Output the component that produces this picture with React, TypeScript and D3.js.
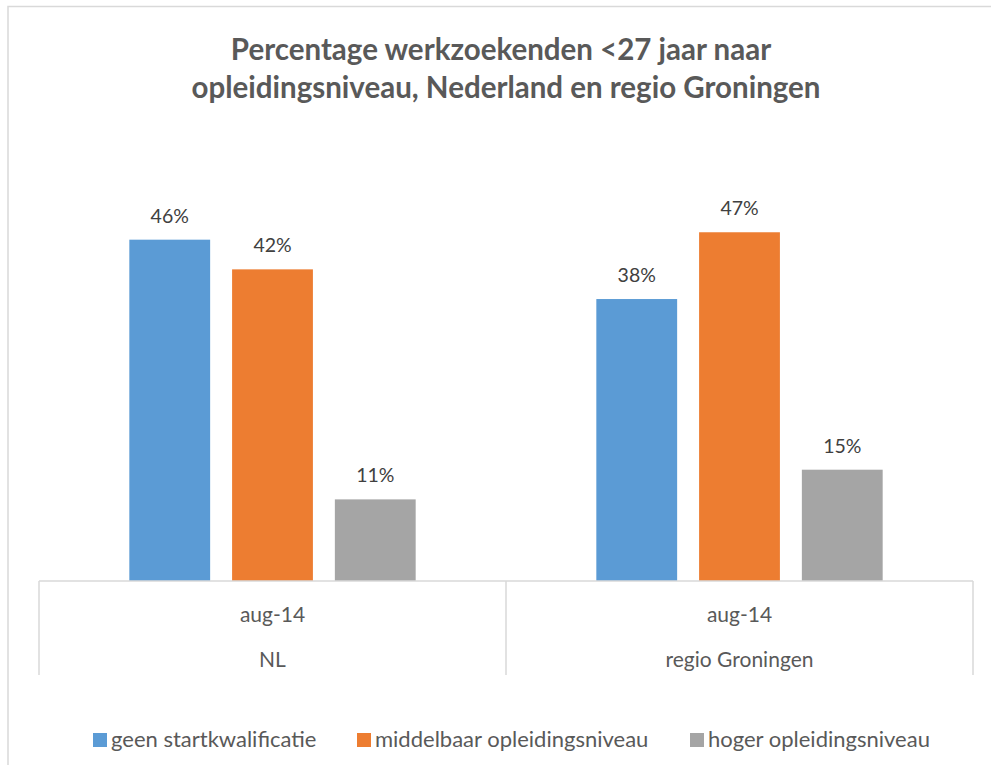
import React, { useEffect, useRef } from 'react'
import * as d3 from 'd3'

// data
const regions = ['NL', 'regio Groningen']
const periods = ['aug-14', 'aug-14']
const series = ['geen startkwalificatie', 'middelbaar opleidingsniveau', 'hoger opleidingsniveau']
const colors = ['#5b9bd5', '#ed7d31', '#a5a5a5']
const geenStart = [46, 38]
const middelbaar = [42, 47]
const hoger = [11, 15]

const W = 991
const H = 765
const FONT = 'Lato, "Open Sans", sans-serif'

function App() {
  const svgRef = useRef<SVGSVGElement>(null)

  useEffect(() => {
    const svg = d3.select(svgRef.current)
    svg.selectAll('*').remove()

    const values = [geenStart, middelbaar, hoger]
    const rows = regions.map((r, i) => ({ region: r, period: periods[i], vals: values.map(v => v[i]) }))

    const base = 581
    const x0 = d3.scaleBand().domain(regions).range([39, 973]).padding(0)
    const x1 = d3.scaleBand().domain(series).range([0, x0.bandwidth()])
      .paddingInner(0.2136).paddingOuter(0.879)
    const y = d3.scaleLinear().domain([0, 50]).range([base, 210])

    // outer frame
    svg.append('rect')
      .attr('x', 8).attr('y', 6.5).attr('width', W + 20).attr('height', H + 20)
      .attr('fill', 'white').attr('stroke', '#d9d9d9').attr('stroke-width', 1.5)

    // title
    const title = svg.append('text')
      .attr('text-anchor', 'middle')
      .attr('font-family', FONT).attr('font-weight', 'bold')
      .attr('font-size', 29.5).attr('fill', '#595959')
    title.append('tspan').attr('x', 501).attr('y', 60).text('Percentage werkzoekenden <27 jaar naar')
    title.append('tspan').attr('x', 506).attr('y', 98).text('opleidingsniveau, Nederland en regio Groningen')

    // bars
    const g = svg.selectAll('.grp').data(rows).join('g')
      .attr('class', 'grp')
      .attr('transform', d => `translate(${x0(d.region)},0)`)

    g.selectAll('rect').data(d => d.vals.map((v, i) => ({ s: series[i], v, c: colors[i] })))
      .join('rect')
      .attr('x', d => x1(d.s)!)
      .attr('y', d => y(d.v))
      .attr('width', x1.bandwidth())
      .attr('height', d => base - y(d.v))
      .attr('fill', d => d.c)

    g.selectAll('text.lbl').data(d => d.vals.map((v, i) => ({ s: series[i], v })))
      .join('text')
      .attr('class', 'lbl')
      .attr('x', d => x1(d.s)! + x1.bandwidth() / 2)
      .attr('y', d => y(d.v) - 17)
      .attr('text-anchor', 'middle')
      .attr('font-family', FONT).attr('font-size', 19.5).attr('fill', '#404040')
      .text(d => d3.format('.0f')(d.v) + '%')

    // category axis
    const axisColor = '#d9d9d9'
    svg.append('line')
      .attr('x1', 39).attr('x2', 973).attr('y1', base).attr('y2', base)
      .attr('stroke', axisColor).attr('stroke-width', 1.5)
    const ticks = [...regions.map(r => x0(r)!), x0.range()[1]]
    svg.selectAll('line.tick').data(ticks).join('line')
      .attr('class', 'tick')
      .attr('x1', d => d).attr('x2', d => d)
      .attr('y1', base).attr('y2', 675)
      .attr('stroke', axisColor).attr('stroke-width', 1.5)

    rows.forEach(d => {
      const cx = x0(d.region)! + x0.bandwidth() / 2
      svg.append('text')
        .attr('x', cx).attr('y', 622)
        .attr('text-anchor', 'middle')
        .attr('font-family', FONT).attr('font-size', 21).attr('fill', '#595959')
        .text(d.period)
      svg.append('text')
        .attr('x', cx).attr('y', 667)
        .attr('text-anchor', 'middle')
        .attr('font-family', FONT).attr('font-size', 21).attr('fill', '#595959')
        .text(d.region)
    })

    // legend
    const legendX = [93, 357, 690]
    const lg = svg.selectAll('g.leg').data(series).join('g')
      .attr('class', 'leg')
      .attr('transform', (d, i) => `translate(${legendX[i]},733)`)
    lg.append('rect').attr('width', 14).attr('height', 14).attr('fill', (d, i) => colors[i])
    lg.append('text')
      .attr('x', 18).attr('y', 14)
      .attr('font-family', FONT).attr('font-size', 22).attr('fill', '#595959')
      .text(d => d)
  }, [])

  return (
    <svg ref={svgRef} width={W} height={H}
      style={{ position: 'absolute', left: 0, top: 0, background: 'white' }} />
  )
}

export default App
